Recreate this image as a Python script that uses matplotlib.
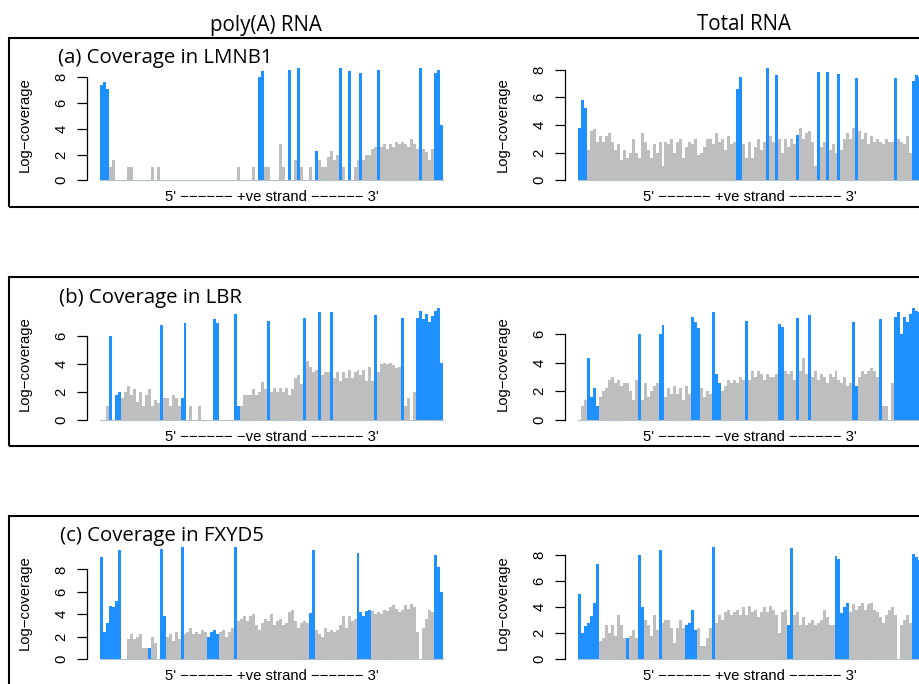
import matplotlib
matplotlib.use("Agg")
import matplotlib.pyplot as plt
from matplotlib.patches import Rectangle

BLUE = "#1E90FF"   # exons
GREY = "#BEBEBE"   # introns / other

# log-coverage in 115 equal bins along each gene
lmnb1_polya = [
    7.4, 7.6, 7.1, 1.0, 1.6, 0, 0, 0, 0, 1.0,
    1.0, 0, 0, 0, 0, 0, 0, 1.0, 0, 1.0,
    0, 0, 0, 0, 0, 0, 0, 0, 0, 0,
    0, 0, 0, 0, 0, 0, 0, 0, 0, 0,
    0, 0, 0, 0, 0, 0, 1.0, 0, 0, 0,
    0, 1.0, 0, 8.0, 8.5, 1.0, 1.0, 0, 0, 0,
    2.8, 1.0, 0, 8.6, 0, 1.6, 8.7, 1.0, 0, 0,
    1.0, 0, 2.3, 1.6, 1.0, 1.0, 1.8, 2.3, 1.6, 2.0,
    8.7, 1.0, 0, 8.5, 0, 1.0, 1.6, 8.3, 1.6, 2.0,
    2.0, 2.4, 2.6, 8.6, 2.6, 2.8, 2.4, 2.8, 2.6, 3.0,
    2.8, 3.0, 2.8, 2.6, 3.2, 2.8, 2.4, 8.7, 2.4, 2.2,
    1.6, 2.4, 8.3, 8.6, 4.3,
]
lmnb1_polya_exons = [0, 1, 2, 53, 54, 63, 66, 72, 80, 83, 87, 93, 107, 112, 113, 114]

lmnb1_total = [
    3.8, 5.8, 5.2, 2.2, 3.6, 3.7, 2.8, 3.2, 2.8, 3.2,
    3.4, 2.8, 2.2, 2.6, 1.5, 2.2, 1.6, 2.0, 3.0, 2.0,
    1.6, 3.4, 2.8, 2.2, 1.6, 2.6, 2.0, 2.8, 1.0, 2.8,
    2.6, 3.0, 2.0, 2.8, 3.0, 1.6, 2.4, 2.8, 2.6, 3.0,
    1.8, 2.0, 2.4, 3.0, 3.0, 2.6, 3.4, 2.8, 3.0, 2.2,
    3.2, 2.6, 2.8, 6.6, 7.5, 2.6, 1.6, 2.8, 1.6, 2.4,
    3.0, 2.2, 2.8, 8.1, 3.2, 2.8, 7.6, 3.0, 2.0, 3.0,
    2.4, 3.0, 2.6, 3.3, 3.8, 3.0, 3.4, 3.6, 2.8, 1.0,
    7.8, 2.4, 2.8, 7.8, 2.2, 2.6, 2.0, 7.7, 2.2, 3.0,
    3.4, 3.0, 3.8, 7.4, 3.6, 3.0, 3.4, 2.6, 3.2, 2.8,
    3.0, 2.8, 2.6, 3.0, 2.8, 2.8, 7.4, 3.0, 2.8, 2.6,
    3.2, 2.0, 7.2, 7.6, 7.5,
]
lmnb1_total_exons = [0, 1, 2, 53, 54, 63, 66, 73, 80, 83, 87, 93, 106, 112, 113, 114]

lbr_polya = [
    0, 0, 1.0, 6.0, 0, 1.8, 2.0, 1.6, 2.0, 2.4,
    1.8, 2.2, 1.3, 2.0, 1.0, 1.8, 2.2, 1.0, 1.4, 1.2,
    6.8, 1.6, 1.6, 1.0, 1.8, 1.6, 1.0, 1.6, 6.9, 0,
    1.0, 0, 0, 1.0, 0, 0, 0, 0, 7.2, 6.9,
    0, 0, 0, 0, 0, 7.6, 1.0, 1.0, 1.8, 1.8,
    1.8, 2.2, 1.8, 2.0, 2.7, 2.2, 7.1, 2.0, 2.3, 2.0,
    2.3, 2.0, 2.3, 1.8, 2.2, 3.0, 3.2, 2.6, 7.3, 4.2,
    3.8, 3.4, 3.6, 7.7, 3.2, 3.4, 3.4, 7.7, 3.0, 3.4,
    2.8, 3.4, 3.0, 3.6, 3.0, 3.4, 3.6, 3.2, 3.6, 2.8,
    3.8, 2.8, 7.5, 3.4, 4.0, 4.1, 4.0, 4.1, 3.9, 3.7,
    3.8, 7.3, 1.0, 1.6, 0, 2.0, 7.3, 7.8, 7.2, 7.6,
    7.0, 7.4, 7.8, 8.0, 4.1,
]
lbr_polya_exons = [3, 5, 6, 20, 27, 28, 38, 39, 45, 46, 56, 68, 73, 77, 92, 101,
                   106, 107, 108, 109, 110, 111, 112, 113, 114]

lbr_total = [
    0, 1.0, 1.4, 4.3, 1.6, 2.2, 1.0, 1.6, 2.0, 2.2,
    2.8, 3.0, 2.6, 2.8, 2.4, 2.6, 2.6, 2.0, 1.4, 2.8,
    6.0, 1.4, 2.6, 1.6, 2.0, 2.4, 2.6, 6.0, 6.6, 1.6,
    2.2, 1.8, 2.4, 1.8, 2.2, 1.4, 2.4, 1.8, 7.2, 6.8,
    6.4, 2.2, 1.6, 2.0, 1.8, 7.5, 3.2, 2.6, 2.0, 2.4,
    2.8, 2.6, 2.8, 2.6, 3.0, 2.8, 6.9, 2.8, 3.4, 3.0,
    3.4, 3.2, 2.8, 3.2, 3.0, 3.0, 3.2, 6.7, 6.5, 3.4,
    3.2, 3.4, 2.8, 7.1, 3.4, 4.3, 3.2, 7.3, 3.0, 3.4,
    2.8, 3.2, 3.0, 2.6, 3.2, 3.0, 3.4, 2.8, 2.6, 3.0,
    2.4, 2.6, 6.8, 2.4, 3.0, 3.4, 3.2, 3.4, 3.6, 3.4,
    3.0, 7.0, 1.0, 1.0, 0, 2.6, 7.2, 7.5, 6.0, 7.2,
    6.8, 7.4, 7.8, 7.6, 7.5,
]
lbr_total_exons = [3, 4, 5, 6, 20, 27, 28, 38, 39, 40, 45, 46, 47, 56, 67, 68, 73, 77,
                   92, 93, 101, 106, 107, 108, 109, 110, 111, 112, 113, 114]

fxyd5_polya = [
    9.1, 2.4, 3.2, 4.7, 4.6, 5.2, 9.7, 0, 0, 1.8,
    2.2, 1.8, 2.0, 2.2, 1.0, 1.0, 1.0, 2.0, 1.4, 0,
    9.8, 3.8, 2.0, 2.2, 1.6, 2.4, 1.8, 10.0, 2.2, 2.4,
    2.8, 2.2, 2.4, 2.2, 2.6, 2.4, 2.0, 2.4, 2.6, 2.2,
    2.4, 2.6, 2.0, 2.4, 2.8, 10.0, 3.4, 3.6, 3.8, 3.4,
    3.8, 4.0, 3.0, 2.6, 3.2, 3.6, 3.4, 4.0, 3.0, 3.4,
    3.6, 3.0, 3.2, 4.2, 4.4, 3.4, 2.8, 3.2, 3.4, 3.2,
    4.1, 9.7, 2.6, 2.2, 2.0, 2.8, 2.4, 2.6, 2.4, 2.6,
    3.0, 3.8, 2.8, 3.8, 3.4, 3.6, 9.5, 4.2, 3.8, 4.3,
    4.4, 4.3, 4.0, 4.2, 4.0, 4.4, 4.3, 4.6, 4.8, 4.5,
    4.2, 4.4, 4.8, 4.5, 4.9, 4.6, 2.4, 0, 2.8, 3.6,
    4.4, 4.2, 9.3, 8.2, 6.0,
]
fxyd5_total = [
    5.0, 2.0, 2.5, 2.8, 3.3, 4.3, 7.3, 1.4, 1.6, 2.6,
    2.0, 2.6, 1.8, 3.4, 2.6, 1.6, 1.6, 1.8, 2.2, 1.6,
    8.0, 4.0, 3.0, 2.6, 1.8, 3.4, 2.2, 8.4, 2.8, 3.0,
    3.0, 2.4, 1.2, 2.4, 3.0, 2.4, 2.6, 2.8, 3.8, 2.2,
    2.4, 1.0, 1.0, 1.6, 2.4, 8.6, 2.8, 3.4, 3.0, 3.6,
    3.8, 3.4, 3.6, 3.8, 3.4, 4.0, 3.4, 4.1, 3.6, 3.8,
    3.2, 3.6, 4.0, 3.6, 4.1, 3.8, 3.4, 2.0, 3.6, 3.8,
    2.6, 8.5, 3.4, 3.6, 2.6, 3.2, 2.6, 2.8, 3.0, 2.6,
    2.8, 3.0, 3.8, 3.2, 2.6, 2.6, 7.9, 7.7, 3.5, 4.0,
    4.3, 3.6, 4.2, 3.8, 4.1, 4.3, 3.8, 4.2, 4.3, 3.8,
    3.6, 3.2, 2.8, 3.4, 3.8, 4.0, 3.4, 0, 2.6, 3.0,
    3.4, 2.8, 8.1, 7.8, 7.6,
]
fxyd5_exons = [0, 1, 2, 3, 4, 5, 6, 16, 20, 21, 27, 36, 37, 38, 39, 45, 70, 71,
               86, 87, 88, 89, 90, 112, 113, 114]

W, H = 920, 684
plt.rcParams["font.family"] = ["Liberation Sans", "DejaVu Sans"]
fig = plt.figure(figsize=(W / 100, H / 100), dpi=100)


def panel(left, zero, cov, exons, ticks, strand):
    ax = fig.add_axes([left / W, (H - zero) / H, 343 / W, 112 / H])
    bins = range(len(cov))
    colours = [BLUE if i in exons else GREY for i in bins]
    ax.bar(bins, cov, width=1.0, color=colours, linewidth=0)
    ax.plot([-0.5, len(cov) - 0.5], [0, 0], color="#b4c0cc", lw=0.8, clip_on=False)
    ax.set_xlim(-0.5, len(cov) - 0.5)
    ax.set_ylim(0, max(cov))
    for s in ("top", "right", "bottom"):
        ax.spines[s].set_visible(False)
    ax.spines["left"].set_position(("outward", 9.6))
    ax.spines["left"].set_bounds(ticks[0], ticks[-1])
    ax.spines["left"].set_linewidth(0.9)
    ax.set_xticks([])
    ax.set_yticks(ticks)
    ax.tick_params(axis="y", length=7, width=0.9, pad=6, labelsize=10.7, labelrotation=90)
    for t in ax.get_yticklabels():
        t.set_va("center")
    ax.set_ylabel("Log\u2212coverage", fontsize=10.7)
    ax.yaxis.set_label_coords(-0.198, 0.5)
    dashes = "\u2212" * 6
    ax.set_xlabel(f"5' {dashes} {strand} strand {dashes} 3'", fontsize=10.7, labelpad=7)
    return ax


rows = [
    ("(a) Coverage in LMNB1", 58, 62.7, 37.7, 207.3, 180.3, "+ve",
     lmnb1_polya, lmnb1_polya_exons, [0, 2, 4, 6, 8],
     lmnb1_total, lmnb1_total_exons, [0, 2, 4, 6, 8]),
    ("(b) Coverage in LBR", 59, 303.3, 276.7, 445.7, 420, "\u2212ve",
     lbr_polya, lbr_polya_exons, [0, 2, 4, 6],
     lbr_total, lbr_total_exons, [0, 2, 4, 6]),
    ("(c) Coverage in FXYD5", 60, 540.7, 516, 760, 659, "+ve",
     fxyd5_polya, fxyd5_exons, [0, 2, 4, 6, 8],
     fxyd5_total, fxyd5_exons, [0, 2, 4, 6, 8]),
]

for (title, tx, ty, top, bottom, zero, strand,
     polya, polya_ex, polya_ticks, total, total_ex, total_ticks) in rows:
    fig.add_artist(Rectangle((9.5 / W, (H - bottom) / H), 1000 / W, (bottom - top) / H,
                             transform=fig.transFigure, fill=False, lw=1.5,
                             edgecolor="black", clip_on=False))
    fig.text(tx / W, 1 - ty / H, title, ha="left", va="baseline",
             fontsize=14.7, family="Open Sans")
    panel(100, zero, polya, polya_ex, polya_ticks, strand)
    panel(578, zero, total, total_ex, total_ticks, strand)

fig.text(266 / W, 1 - 30.5 / H, "poly(A) RNA", ha="center", va="baseline",
         fontsize=14.8, family="Open Sans")
fig.text(744 / W, 1 - 30 / H, "Total RNA", ha="center", va="baseline",
         fontsize=14.8, family="Open Sans")

fig.savefig("out.png", dpi=100)
